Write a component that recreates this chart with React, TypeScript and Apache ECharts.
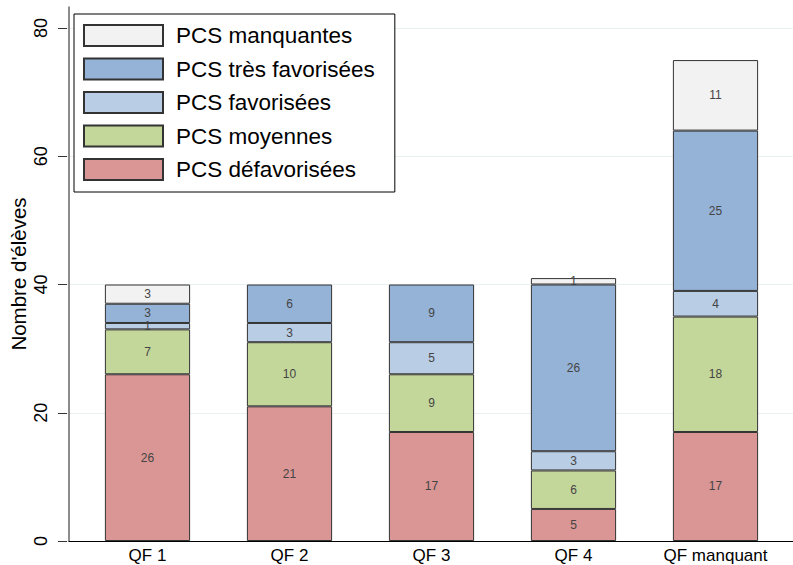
import React, { useEffect, useRef } from "react";
import * as echarts from "echarts";

const categories = ["QF 1", "QF 2", "QF 3", "QF 4", "QF manquant"];
const defavorisees = [26, 21, 17, 5, 17];
const moyennes = [7, 10, 9, 6, 18];
const favorisees = [1, 3, 5, 3, 4];
const tresFavorisees = [3, 6, 9, 26, 25];
const manquantes = [3, 0, 0, 1, 11];
const yTicks = [0, 20, 40, 60, 80];

const seriesDefs = [
  { name: "PCS défavorisées", data: defavorisees, color: "#d99694" },
  { name: "PCS moyennes", data: moyennes, color: "#c4d79b" },
  { name: "PCS favorisées", data: favorisees, color: "#b9cde5" },
  { name: "PCS très favorisées", data: tresFavorisees, color: "#95b3d7" },
  { name: "PCS manquantes", data: manquantes, color: "#f2f2f2" },
];

const FONT = "'Liberation Sans', Arial, sans-serif";

export default function App() {
  const ref = useRef<HTMLDivElement>(null);
  useEffect(() => {
    if (!ref.current) return;
    const chart = echarts.init(ref.current, undefined, { renderer: "svg" });
    chart.setOption({
      animation: false,
      backgroundColor: "#ffffff",
      textStyle: { fontFamily: FONT },
      grid: [
        { left: 67, right: 0, top: 7, bottom: 24 },
        { left: 67, right: 0, top: 28, bottom: 24 },
        { left: 76.5, width: 710, top: 28, bottom: 24 },
      ],
      legend: {
        orient: "vertical",
        left: 74,
        top: 14,
        padding: [10, 20, 11, 9],
        icon: "rect",
        itemWidth: 79,
        itemHeight: 21,
        itemGap: 10.5,
        borderColor: "#000",
        borderWidth: 1,
        borderRadius: 0,
        backgroundColor: "#fff",
        textStyle: { fontSize: 22.5, color: "#000", fontFamily: FONT, padding: [0, 0, 0, 8] },
        data: seriesDefs.map((s) => s.name).reverse(),
      },
      xAxis: [
        {
          gridIndex: 0,
          type: "category",
          data: [],
          axisLine: { show: true, lineStyle: { color: "#000", width: 1 } },
          axisTick: { show: false },
          axisLabel: { show: false },
          splitLine: { show: false },
        },
        {
          gridIndex: 1,
          type: "category",
          data: [],
          show: false,
        },
        {
          gridIndex: 2,
          type: "category",
          data: categories,
          axisLine: { show: false },
          axisTick: { show: false },
          axisLabel: { fontSize: 17, color: "#000", margin: 6, fontFamily: FONT },
        },
      ],
      yAxis: [
        {
          gridIndex: 0,
          type: "value",
          min: 0,
          max: 1,
          name: "Nombre d'élèves",
          nameLocation: "middle",
          nameGap: 40,
          nameTextStyle: { fontSize: 20.5, color: "#000", fontFamily: FONT },
          axisLine: { show: true, lineStyle: { color: "#666", width: 1.5 } },
          axisTick: { show: false },
          axisLabel: { show: false },
          splitLine: { show: false },
        },
        {
          gridIndex: 1,
          type: "value",
          min: yTicks[0],
          max: yTicks[yTicks.length - 1],
          interval: 20,
          axisLine: { show: false },
          axisTick: { show: true, length: 9, lineStyle: { color: "#333" } },
          axisLabel: { rotate: 90, fontSize: 18, color: "#000", margin: 17, fontFamily: FONT },
          splitLine: { show: true, lineStyle: { color: "#e8f0f2", width: 1 } },
        },
        {
          gridIndex: 2,
          type: "value",
          min: yTicks[0],
          max: yTicks[yTicks.length - 1],
          show: false,
        },
      ],
      series: seriesDefs.map((s) => ({
        name: s.name,
        type: "bar",
        stack: "total",
        xAxisIndex: 2,
        yAxisIndex: 2,
        barWidth: "60%",
        data: s.data.map((v) => (v === 0 ? null : v)),
        itemStyle: { color: s.color, borderColor: "#333", borderWidth: 1 },
        label: {
          show: true,
          position: "inside",
          fontSize: 12,
          color: "#444",
          fontFamily: FONT,
        },
      })),
    });
    return () => chart.dispose();
  }, []);
  return (
    <div
      ref={ref}
      style={{ position: "absolute", left: 0, top: 0, width: 793, height: 565 }}
    />
  );
}
